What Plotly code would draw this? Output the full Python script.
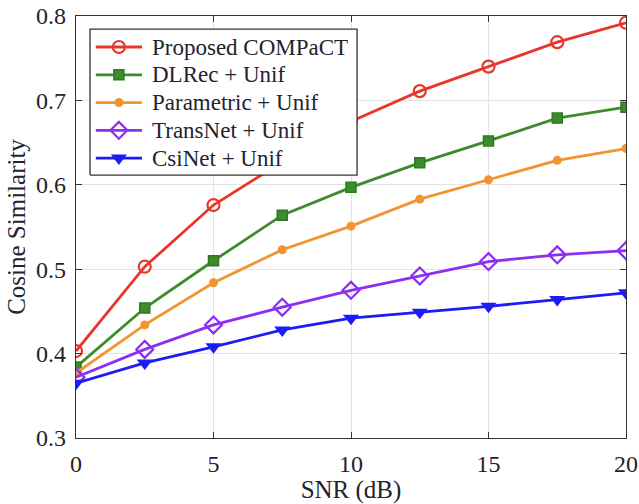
import plotly.graph_objects as go

snr_db = [0, 2.5, 5, 7.5, 10, 12.5, 15, 17.5, 20]

compact = [0.403, 0.503, 0.576, 0.627, 0.675, 0.711, 0.740, 0.769, 0.792]
dlrec = [0.384, 0.454, 0.510, 0.564, 0.597, 0.626, 0.652, 0.679, 0.692]
parametric = [0.377, 0.434, 0.484, 0.523, 0.551, 0.583, 0.606, 0.629, 0.643]
transnet = [0.372, 0.405, 0.434, 0.455, 0.475, 0.492, 0.509, 0.517, 0.522]
csinet = [0.365, 0.389, 0.408, 0.428, 0.442, 0.449, 0.456, 0.464, 0.472]

series = [
    ("Proposed COMPaCT", compact, "#e8362b", dict(symbol="circle-open", size=12, line=dict(width=2.2))),
    ("DLRec + Unif", dlrec, "#3d8c2c", dict(symbol="square", size=10, line=dict(width=1.5, color="#2e7a20"))),
    ("Parametric + Unif", parametric, "#f0952f", dict(symbol="circle", size=9)),
    ("TransNet + Unif", transnet, "#8b2ff0", dict(symbol="diamond-open", size=13, line=dict(width=2.2))),
    ("CsiNet + Unif", csinet, "#1c1cf5", dict(symbol="triangle-down", size=14)),
]

LINE_W = 2.8
FONT = "Liberation Serif"
TEXT_COLOR = "#23232e"

fig = go.Figure()
for name, vals, color, marker in series:
    fig.add_trace(go.Scatter(
        x=snr_db, y=vals, name=name, mode="lines+markers", showlegend=False,
        line=dict(color=color, width=LINE_W), marker=dict(color=color, **marker),
    ))

# Legend box drawn on an overlay axis spanning [0, 1] of the plot area,
# so it sits above the data lines with a compact row spacing.
box_x0, box_x1 = 0.0255, 0.511
box_y0, box_y1 = 0.623, 0.969
row_top, row_step = 0.9265, 0.0658
seg_x0, seg_x1, text_x = 0.036, 0.120, 0.1345

fig.add_trace(go.Scatter(
    x=[box_x0, box_x1, box_x1, box_x0, box_x0],
    y=[box_y0, box_y0, box_y1, box_y1, box_y0],
    mode="lines", fill="toself", fillcolor="white",
    line=dict(color="#333333", width=1.3),
    xaxis="x2", yaxis="y2", showlegend=False, hoverinfo="skip",
))
for i, (name, vals, color, marker) in enumerate(series):
    ry = row_top - i * row_step
    fig.add_trace(go.Scatter(
        x=[seg_x0, (seg_x0 + seg_x1) / 2, seg_x1], y=[ry, ry, ry],
        mode="lines+markers", line=dict(color=color, width=LINE_W),
        marker=dict(color=color, **marker),
        selectedpoints=[1], selected=dict(marker=dict(opacity=1)),
        unselected=dict(marker=dict(opacity=0)),
        xaxis="x2", yaxis="y2", showlegend=False, hoverinfo="skip",
    ))
    fig.add_annotation(
        x=text_x, y=ry, xref="x2", yref="y2", text=name, showarrow=False,
        xanchor="left", yanchor="middle",
        font=dict(family=FONT, size=23, color=TEXT_COLOR),
    )

axis_common = dict(
    showline=True, linecolor="#333333", linewidth=1.3, mirror="ticks",
    ticks="inside", ticklen=6, tickcolor="#333333",
    showgrid=True, gridcolor="#e3e3e3", gridwidth=1,
    zeroline=False, automargin=False,
    tickfont=dict(family=FONT, size=24, color=TEXT_COLOR),
)
overlay_axis = dict(range=[0, 1], visible=False, showgrid=False,
                    zeroline=False, fixedrange=True)

fig.update_layout(
    width=639, height=504,
    margin=dict(l=76, r=13, t=16, b=66),
    paper_bgcolor="white", plot_bgcolor="white",
    font=dict(family=FONT, color=TEXT_COLOR),
    xaxis=dict(range=[0, 20], tickvals=[0, 5, 10, 15, 20],
               title=dict(text="SNR (dB)", font=dict(size=25), standoff=7),
               ticklabelstandoff=4,
               **axis_common),
    yaxis=dict(range=[0.3, 0.8], tickvals=[0.3, 0.4, 0.5, 0.6, 0.7, 0.8],
               tickformat=".1f",
               title=dict(text="Cosine Similarity", font=dict(size=25), standoff=3),
               ticklabelstandoff=4,
               **axis_common),
    xaxis2=dict(overlaying="x", **overlay_axis),
    yaxis2=dict(overlaying="y", **overlay_axis),
)

fig.write_html("out.html")
